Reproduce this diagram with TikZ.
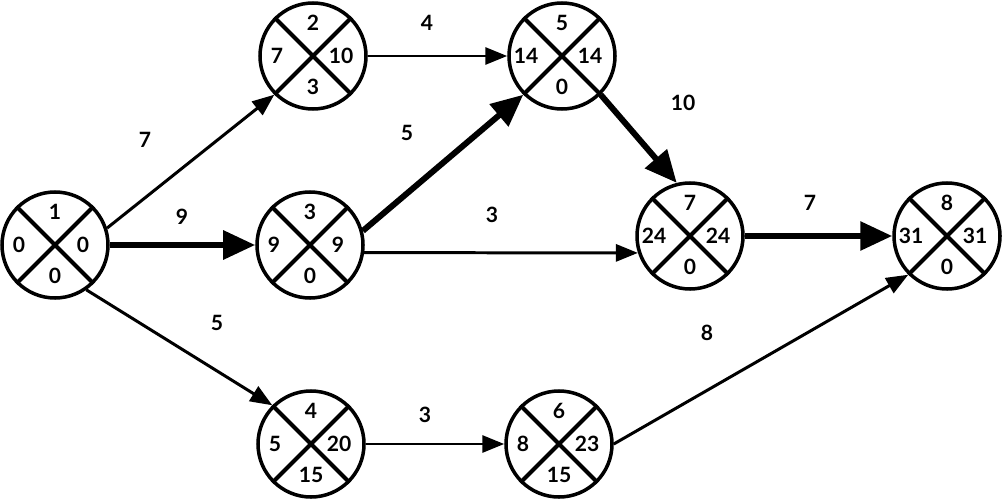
\documentclass[tikz,border=0pt]{standalone}
\usepackage{fontspec}
\setsansfont{Lato}
\usetikzlibrary{arrows.meta}
\tikzset{
  event/.style={circle,draw,line width=2pt,minimum size=2.12cm,inner sep=0pt},
  cross/.style={line width=2.3pt},
  act/.style={line width=1.7pt,-{Triangle[length=0.44cm,width=0.34cm]}},
  crit/.style={line width=3.4pt,-{Triangle[length=0.64cm,width=0.56cm]}},
  num/.style={font=\sffamily\bfseries\fontsize{12}{14}\selectfont,inner sep=1pt},
}

\begin{document}
\begin{tikzpicture}
        \useasboundingbox (0,0) rectangle (20.04,9.98);
        % events: name/x/y/top/left/right/bottom
        \foreach \nm/\x/\y/\t/\l/\r/\b in {n1/1.10/5.08/1/0/0/0, n2/6.26/8.86/2/7/10/3,
            n3/6.20/5.08/3/9/9/0, n4/6.22/1.10/4/5/20/15, n5/11.24/8.86/5/14/14/0,
            n6/11.18/1.10/6/8/23/15, n7/13.80/5.26/7/24/24/0, n8/18.94/5.26/8/31/31/0}{
            \node[event] (\nm) at (\x,\y) {};
            \draw[cross] (\nm.45)--(\nm.225) (\nm.135)--(\nm.-45);
            \node[num] (\nm-t) at ([yshift=0.66cm]\nm.center) {\t};
            \node[num] (\nm-l) at ([xshift=-0.72cm]\nm.center) {\l};
            \node[num] (\nm-r) at ([xshift=0.56cm]\nm.center) {\r};
            \node[num] (\nm-b) at ([yshift=-0.62cm]\nm.center) {\b};
        }
        % activities
        \draw[act] (n1.18)--(n2.225);
        \draw[crit] (n1.east)--(n3.west);
        \draw[act] (n1.-55)--(n4.135);
        \draw[act] (n2.east)--(n5.west);
        \draw[crit] (n3.15)--(n5.225);
        \draw[act] (n3.-8)--(n7.198);
        \draw[crit] (n5.-45)--(n7.104);
        \draw[crit] (n7.east)--(n8.west);
        \draw[act] (n4.east)--(n6.west);
        \draw[act] (n6.east)--(n8.225);
        % durations
        \node[num] (d12) at (2.90,7.18) {7};
        \node[num] (d13) at (3.64,5.64) {9};
        \node[num] (d14) at (4.34,3.52) {5};
        \node[num] (d25) at (8.54,9.52) {4};
        \node[num] (d35) at (8.14,7.32) {5};
        \node[num] (d37) at (9.84,5.68) {3};
        \node[num] (d57) at (13.66,7.92) {10};
        \node[num] (d78) at (16.20,5.92) {7};
        \node[num] (d46) at (8.50,1.68) {3};
        \node[num] (d68) at (14.14,3.32) {8};
    \end{tikzpicture}
\end{document}
